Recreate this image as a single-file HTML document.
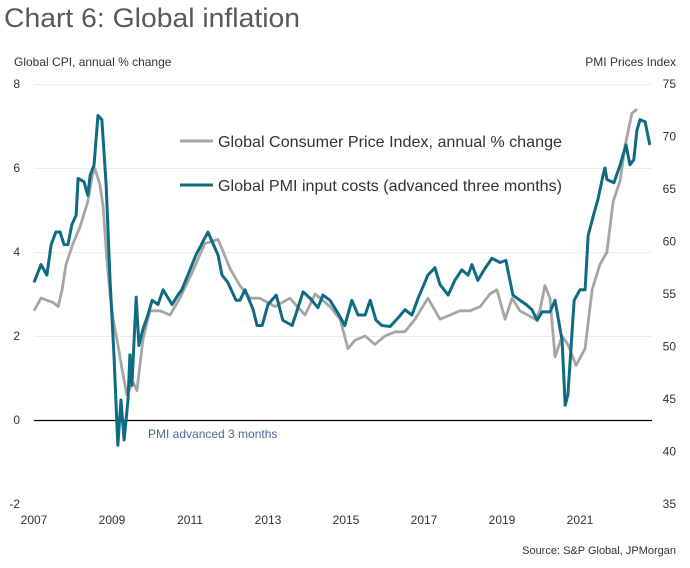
<!DOCTYPE html>
<html><head><meta charset="utf-8"><style>
body{margin:0;background:#fff;font-family:"Liberation Sans",sans-serif;}
svg text{font-family:"Liberation Sans",sans-serif;}
</style></head><body>
<svg id="chart" width="690" height="563" xmlns="http://www.w3.org/2000/svg">
<text x="4" y="27" font-size="27" fill="#595959" textLength="296" lengthAdjust="spacingAndGlyphs">Chart 6: Global inflation</text>
<text x="14" y="66" font-size="12" fill="#333">Global CPI, annual % change</text>
<text x="676" y="66" font-size="12" fill="#333" text-anchor="end">PMI Prices Index</text>
<g id="grid"></g><g id="ticks"></g><g id="series"></g>
<line x1="180" y1="141" x2="213" y2="141" stroke="#a6a6a6" stroke-width="3"/>
<text x="218" y="147" font-size="16" fill="#333" textLength="344" lengthAdjust="spacingAndGlyphs">Global Consumer Price Index, annual % change</text>
<line x1="180" y1="185" x2="213" y2="185" stroke="#0e6b82" stroke-width="3"/>
<text x="218" y="191" font-size="16" fill="#333" textLength="344" lengthAdjust="spacingAndGlyphs">Global PMI input costs (advanced three months)</text>
<text x="148" y="438" font-size="12" fill="#4a6b95">PMI advanced 3 months</text>
<text x="676" y="554" font-size="11" fill="#333" text-anchor="end">Source: S&amp;P Global, JPMorgan</text>
</svg>
<script>
const leftTicks=[8,6,4,2,0,-2];
const rightTicks=[75,70,65,60,55,50,45,40,35];
const yearTicks=[2007,2009,2011,2013,2015,2017,2019,2021];
const cpiDates=[2007.00,2007.18,2007.49,2007.62,2007.72,2007.82,2008.00,2008.18,2008.28,2008.38,2008.49,2008.56,2008.69,2008.77,2008.87,2008.95,2009.03,2009.15,2009.26,2009.38,2009.54,2009.64,2009.79,2009.97,2010.23,2010.49,2010.74,2011.05,2011.38,2011.72,2012.03,2012.28,2012.54,2012.79,2013.18,2013.56,2013.95,2014.21,2014.59,2014.85,2015.05,2015.23,2015.49,2015.74,2016.00,2016.26,2016.51,2016.77,2017.10,2017.41,2017.67,2017.92,2018.18,2018.44,2018.69,2018.87,2019.08,2019.26,2019.46,2019.85,2019.97,2020.10,2020.23,2020.36,2020.54,2020.69,2020.90,2021.13,2021.31,2021.51,2021.69,2021.85,2022.03,2022.15,2022.33,2022.46];
const cpiValues=[2.6,2.9,2.8,2.7,3.1,3.7,4.2,4.6,4.9,5.2,5.8,6.0,5.6,5.1,3.8,3.0,2.4,1.8,1.2,0.6,0.9,0.7,1.9,2.6,2.6,2.5,2.9,3.5,4.2,4.3,3.6,3.2,2.9,2.9,2.7,2.9,2.5,3.0,2.7,2.4,1.7,1.9,2.0,1.8,2.0,2.1,2.1,2.4,2.9,2.4,2.5,2.6,2.6,2.7,3.0,3.1,2.4,2.9,2.6,2.4,2.6,3.2,2.9,1.5,2.0,1.8,1.3,1.7,3.1,3.7,4.0,5.2,5.7,6.5,7.3,7.4];
const pmiDates=[2007.00,2007.18,2007.33,2007.44,2007.56,2007.67,2007.77,2007.87,2007.97,2008.08,2008.13,2008.28,2008.38,2008.44,2008.54,2008.64,2008.74,2008.85,2008.95,2009.05,2009.15,2009.23,2009.31,2009.41,2009.46,2009.51,2009.62,2009.69,2009.79,2009.92,2010.03,2010.18,2010.31,2010.54,2010.69,2010.79,2011.00,2011.15,2011.46,2011.72,2011.82,2011.97,2012.18,2012.28,2012.41,2012.62,2012.72,2012.85,2013.00,2013.21,2013.38,2013.62,2013.90,2014.08,2014.28,2014.41,2014.59,2014.79,2014.97,2015.15,2015.31,2015.49,2015.62,2015.77,2015.92,2016.13,2016.33,2016.51,2016.69,2016.85,2017.10,2017.28,2017.41,2017.62,2017.79,2017.97,2018.13,2018.23,2018.38,2018.54,2018.74,2018.95,2019.10,2019.28,2019.46,2019.62,2019.77,2019.90,2020.03,2020.23,2020.36,2020.54,2020.62,2020.69,2020.85,2021.00,2021.13,2021.21,2021.36,2021.46,2021.59,2021.64,2021.69,2021.87,2022.03,2022.18,2022.28,2022.38,2022.46,2022.54,2022.67,2022.79];
const pmiValues=[56.1,57.8,56.8,59.7,60.9,60.9,59.7,59.7,61.6,62.5,66.0,65.7,64.4,66.3,67.3,72.0,71.6,65.4,56.3,49.2,40.6,44.9,41.1,44.9,49.2,46.3,54.7,50.1,51.6,53.0,54.4,54.0,55.4,54.0,54.9,55.4,57.3,58.7,60.9,58.7,56.8,56.1,54.4,54.4,55.4,53.5,52.0,52.0,54.0,54.9,52.5,52.0,55.2,54.6,53.7,54.9,54.4,53.2,52.0,54.4,53.0,53.0,54.4,52.5,52.0,51.9,52.7,53.5,53.0,54.6,56.8,57.5,55.9,54.9,56.3,57.3,56.8,57.8,56.3,57.3,58.4,58.0,58.2,54.9,54.4,54.0,53.5,52.5,53.3,53.3,54.4,50.6,44.4,45.4,54.4,55.4,55.4,60.6,62.7,64.0,66.3,67.0,65.9,65.6,67.3,69.2,67.3,67.8,70.6,71.6,71.4,69.2];

const NS="http://www.w3.org/2000/svg";
const X0=34,X1=652;
function xPos(d){return 34+(d-2007)*39;}
function yLeft(v){return 420-v*42;}
function yRight(v){return 84+(75-v)*10.5;}
function mk(tag,attrs,parent){const e=document.createElementNS(NS,tag);for(const k in attrs)e.setAttribute(k,attrs[k]);parent.appendChild(e);return e;}
const grid=document.getElementById('grid'),ticks=document.getElementById('ticks'),series=document.getElementById('series');
leftTicks.forEach(v=>{
  if(v>0){const g=mk('line',{x1:X0,x2:X1,y1:yLeft(v)+0.5,y2:yLeft(v)+0.5,stroke:'#ececec','stroke-width':1},grid);
  
  }
  const t=mk('text',{x:20,y:yLeft(v)+4,'font-size':12,fill:'#333','text-anchor':'end'},ticks);t.textContent=v;
  
  
});
rightTicks.forEach(v=>{
  const t=mk('text',{x:676,y:yRight(v)+4,'font-size':12,fill:'#333','text-anchor':'end'},ticks);t.textContent=v;
  
  
});
yearTicks.forEach(y=>{
  const t=mk('text',{x:xPos(y),y:524,'font-size':12,fill:'#333','text-anchor':'middle'},ticks);t.textContent=y;
  
  
});
const zl=mk('line',{x1:X0,x2:X1,y1:yLeft(0)+0.5,y2:yLeft(0)+0.5,stroke:'#000','stroke-width':1.2},grid);


const cp=mk('polyline',{points:cpiDates.map((d,i)=>xPos(d)+','+yLeft(cpiValues[i])).join(' '),fill:'none',stroke:'#a6a6a6','stroke-width':2.8,'stroke-linejoin':'round'},series);


const pp=mk('polyline',{points:pmiDates.map((d,i)=>xPos(d)+','+yRight(pmiValues[i])).join(' '),fill:'none',stroke:'#0e6b82','stroke-width':3,'stroke-linejoin':'round'},series);


</script>
</body></html>
